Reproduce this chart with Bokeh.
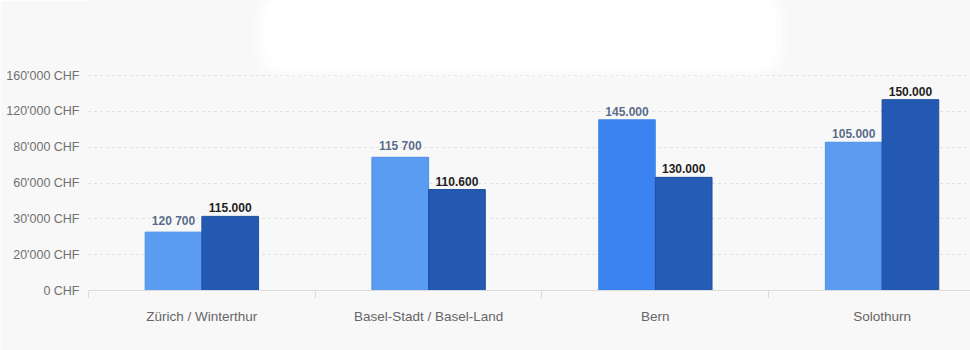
from bokeh.plotting import figure
from bokeh.models import ColumnDataSource, FixedTicker, Range1d, BoxAnnotation
from bokeh.core.properties import value
from bokeh.embed import file_html
from bokeh.resources import INLINE

# ---- data ----
regions = ["Zürich / Winterthur", "Basel-Stadt / Basel-Land", "Bern", "Solothurn"]
# tick labels shown on the (non-linear) value axis, one per equal step
y_tick_labels = ["0 CHF", "20'000 CHF", "30'000 CHF", "60'000 CHF",
                 "80'000 CHF", "120'000 CHF", "160'000 CHF"]
# bar heights as drawn, measured in axis steps
light_heights = [1.63, 3.72, 4.77, 4.14]
dark_heights = [2.07, 2.82, 3.16, 5.33]
# value labels printed above bars
light_labels = ["120 700", "115 700", "145.000", "105.000"]
dark_labels = ["115.000", "110.600", "130.000", "150.000"]

light_colors = ["#5a9cf2", "#5a9cf2", "#3a82ef", "#5b9cf0"]
dark_colors = ["#2459b2", "#2459b2", "#245cb6", "#2359b3"]

FONT = "Liberation Sans"
BG = "#f8f8f8"

centers = [i + 0.5 for i in range(len(regions))]
bw = 0.25

p = figure(width=970, height=350, output_backend="svg", toolbar_location=None,
           x_range=Range1d(0, 3.89), y_range=Range1d(0, 8.1),
           min_border_left=88, min_border_right=0, min_border_top=0,
           min_border_bottom=60)
p.background_fill_color = BG
p.border_fill_color = BG
p.outline_line_color = None

# soft white box at top (redacted title area)
for pad, alpha in [(0.05, 0.35), (0.025, 0.5), (0.0, 1.0)]:
    p.add_layout(BoxAnnotation(left=0.78 - pad, right=3.03 + pad,
                               bottom=6.2 - pad * 4, top=8.3,
                               fill_color="white", fill_alpha=alpha, line_color=None,
                               border_radius=22, level="underlay"))

src_l = ColumnDataSource(dict(x=[c - bw / 2 for c in centers], top=light_heights,
                              lab=light_labels, col=light_colors))
src_d = ColumnDataSource(dict(x=[c + bw / 2 for c in centers], top=dark_heights,
                              lab=dark_labels, col=dark_colors))

p.vbar(x="x", top="top", bottom=0, width=bw, source=src_l,
       fill_color="col", line_color="#4d8fe6", line_width=1)
p.vbar(x="x", top="top", bottom=0, width=bw, source=src_d,
       fill_color="col", line_color="#1f4f9e", line_width=1)

p.text(x="x", y="top", text="lab", source=src_l, text_align="center",
       text_baseline="bottom", y_offset=-4, text_font=value(FONT),
       text_font_size="12px", text_color="#3a5075", text_font_style="bold",
       text_alpha=0.85)
p.text(x="x", y="top", text="lab", source=src_d, text_align="center",
       text_baseline="bottom", y_offset=-4, text_font=value(FONT),
       text_font_size="12px", text_color="#1e1e1e", text_font_style="bold")

# y axis
yt = list(range(len(y_tick_labels)))
p.yaxis.ticker = FixedTicker(ticks=yt, minor_ticks=[])
p.yaxis.major_label_overrides = {i: s for i, s in enumerate(y_tick_labels)}
p.yaxis.axis_line_color = None
p.yaxis.major_tick_line_color = None
p.yaxis.minor_tick_line_color = None
p.yaxis.major_label_standoff = 3
p.yaxis.major_label_text_font = FONT
p.yaxis.major_label_text_font_size = "12.5px"
p.yaxis.major_label_text_color = "#707070"

# x axis
p.xaxis.ticker = FixedTicker(ticks=centers, minor_ticks=[0, 1, 2, 3, 4])
p.xaxis.major_label_overrides = {c: r for c, r in zip(centers, regions)}
p.xaxis.axis_line_color = "#dcdcdc"
p.xaxis.major_tick_line_color = None
p.xaxis.major_tick_out = 0
p.xaxis.minor_tick_line_color = "#dcdcdc"
p.xaxis.minor_tick_out = 8
p.xaxis.minor_tick_in = 0
p.xaxis.major_label_standoff = 10
p.xaxis.major_label_text_font = FONT
p.xaxis.major_label_text_font_size = "13.5px"
p.xaxis.major_label_text_color = "#666666"

# grid
p.xgrid.grid_line_color = None
p.ygrid.ticker = FixedTicker(ticks=yt[1:])
p.ygrid.grid_line_color = "#d8d8d8"
p.ygrid.grid_line_dash = "2 4"
p.ygrid.grid_line_width = 1

open("out.html", "w").write(file_html(p, INLINE))
